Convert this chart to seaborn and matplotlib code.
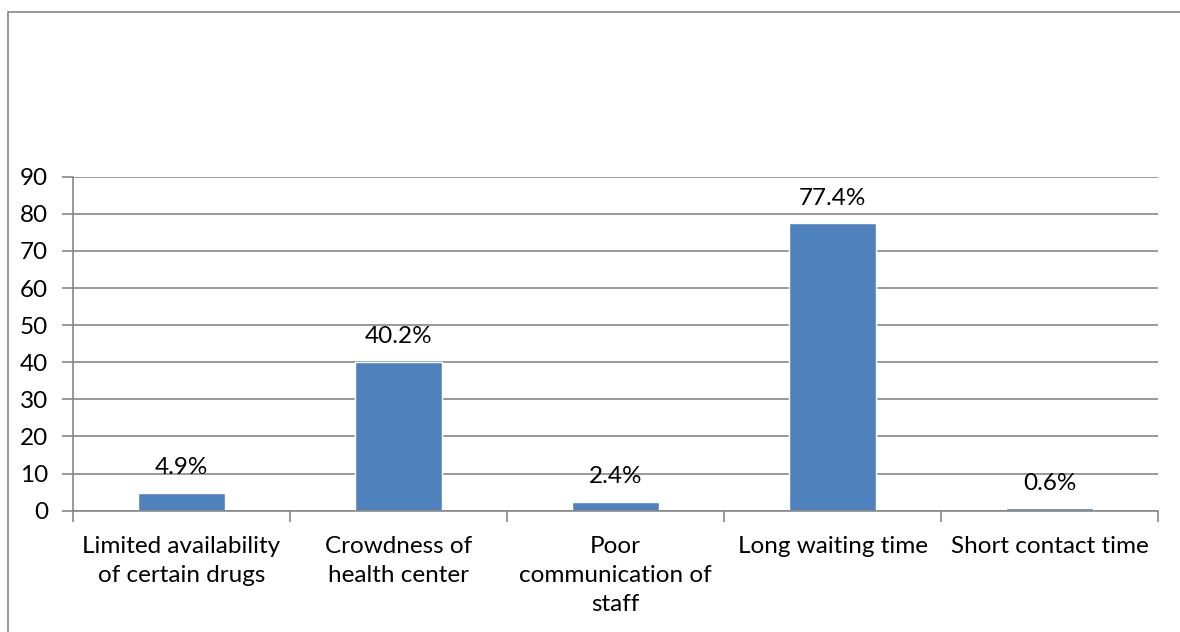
import matplotlib
matplotlib.use("Agg")
import matplotlib.pyplot as plt
from matplotlib.patches import Rectangle
import seaborn as sns
import pandas as pd

categories = [
    "Limited availability\nof certain drugs",
    "Crowdness of\nhealth center",
    "Poor\ncommunication of\nstaff",
    "Long waiting time",
    "Short contact time",
]
values = [4.9, 40.2, 2.4, 77.4, 0.6]
value_labels = ["4.9%", "40.2%", "2.4%", "77.4%", "0.6%"]
y_ticks = [0, 10, 20, 30, 40, 50, 60, 70, 80, 90]

sns.set_theme(style="white")
plt.rcParams["font.family"] = ["Lato", "DejaVu Sans"]

df = pd.DataFrame({"cause": categories, "pct": values})

fig = plt.figure(figsize=(11.8, 6.32), dpi=100)
ax = fig.add_axes([73 / 1180, 1 - 510.7 / 632, (1158 - 73) / 1180, (510.7 - 176.7) / 632])

grid_c = "#878787"
fs = 17.5
sns.barplot(data=df, x="cause", y="pct", color="#4F81BD", width=0.4,
            saturation=1, ax=ax, zorder=3)

ax.set_ylim(0, 90)
ax.set_yticks(y_ticks)
ax.set_xlim(-0.5, len(categories) - 0.5)
ax.set_xlabel("")
ax.set_ylabel("")

# horizontal gridlines extending to the left as outward ticks
ax.yaxis.grid(True, color=grid_c, linewidth=1.2, zorder=0)
ax.set_axisbelow(True)
ax.tick_params(axis="y", which="major", length=8, width=1.2, color=grid_c,
               labelsize=fs, pad=10, left=True, labelcolor="black")

# category labels, wrapped over several lines
ax.set_xticks(range(len(categories)))
ax.set_xticklabels(categories, linespacing=1.47, va="top")

# category separators below the x axis
ax.set_xticks([i + 0.5 for i in range(-1, len(categories))], minor=True)
ax.tick_params(axis="x", which="minor", length=8, width=1.2, color=grid_c,
               direction="out", bottom=True)
ax.tick_params(axis="x", which="major", length=0, labelsize=fs, pad=18,
               labelcolor="black")

for s in ["top", "right"]:
    ax.spines[s].set_visible(False)
for s in ["left", "bottom"]:
    ax.spines[s].set_color(grid_c)
    ax.spines[s].set_linewidth(1.2)
    ax.spines[s].set_zorder(4)

for i, (v, t) in enumerate(zip(values, value_labels)):
    ax.annotate(t, (i, v), xytext=(0, 18), textcoords="offset points",
                ha="center", va="center", fontsize=fs, color="black", zorder=5)

# outer chart frame
fig.patches.append(Rectangle((7.5 / 1180, -0.1), 1.2, 1 - 11.5 / 632 + 0.1,
                             transform=fig.transFigure, fill=False,
                             edgecolor=grid_c, linewidth=1.2))

fig.savefig("out.png", dpi=100)
